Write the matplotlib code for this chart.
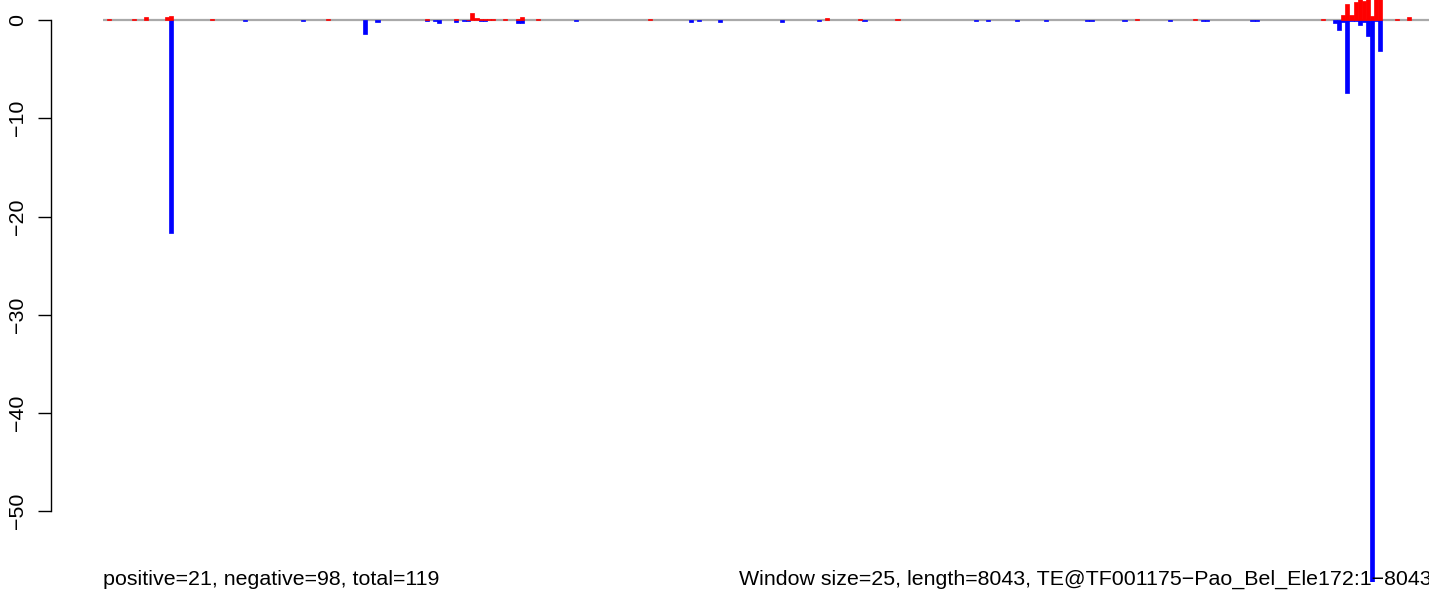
import matplotlib
matplotlib.use('Agg')
import matplotlib.pyplot as plt
import numpy as np

# window index -> value (window size 25, 322 windows)
n_windows = 322
pos_idx = [1, 7, 10, 15, 16, 26, 54, 78, 85, 88, 89, 90, 91, 92, 93, 94, 97, 100, 101, 105,
           132, 175, 183, 192, 250, 264, 295, 300, 301, 302, 303, 304, 305, 306, 307, 308, 309,
           313, 316]
pos_val = [0.1, 0.1, 0.3, 0.3, 0.4, 0.1, 0.15, 0.1, 0.1, 0.05, 0.7, 0.2, 0.1, 0.1, 0.1, 0.1, 0.1, 0.1, 0.3, 0.1,
           0.1, 0.2, 0.1, 0.1, 0.1, 0.1, 0.1, 0.5, 1.6, 0.5, 1.8, 2.5, 1.9, 3.0, 0.4, 3.0, 3.0,
           0.1, 0.3]
neg_idx = [16, 34, 48, 63, 66, 78, 80, 81, 85, 87, 88, 91, 92, 100, 101, 114,
           142, 144, 149, 164, 173, 184, 211, 214, 221, 228, 238, 239, 247, 258,
           266, 267, 278, 279, 298, 299, 300, 301, 302, 303, 304, 305, 306, 307, 308, 309]
neg_val = [-21.7, -0.1, -0.1, -1.4, -0.2, -0.1, -0.1, -0.3, -0.2, -0.1, -0.1, -0.1, -0.1, -0.3, -0.3, -0.1,
           -0.2, -0.1, -0.2, -0.2, -0.1, -0.1, -0.1, -0.1, -0.1, -0.1, -0.1, -0.1, -0.1, -0.1,
           -0.1, -0.1, -0.1, -0.1, -0.3, -1.0, -0.2, -7.4, -0.1, -0.1, -0.5, -0.2, -1.6, -60.0, -0.1, -3.2]
y_ticks = [0, -10, -20, -30, -40, -50]
left_note = 'positive=21, negative=98, total=119'
right_note = 'Window size=25, length=8043, TE@TF001175\u2212Pao_Bel_Ele172:1\u22128043'

plt.rcParams['font.family'] = ['Liberation Sans', 'DejaVu Sans']
plt.rcParams['axes.unicode_minus'] = True

W, H = 1429, 592
fig = plt.figure(figsize=(W / 100, H / 100), dpi=100)
ax = fig.add_axes([103 / W, (H - 582) / H, (1432 - 103) / W, 582 / H])
ax.set_xlim(0, n_windows)
ax.set_ylim(-57.2, 20 / 9.82)

ax.axhline(0, color='darkgray', lw=1.6, zorder=1)
ax.bar(neg_idx, neg_val, width=1, align='edge', color='blue',
       edgecolor='blue', linewidth=0.5, zorder=2)
ax.bar(pos_idx, pos_val, width=1, align='edge', color='red',
       edgecolor='red', linewidth=0.5, zorder=3)

for s in ['top', 'right', 'bottom']:
    ax.spines[s].set_visible(False)
ax.spines['left'].set_position(('outward', 52 * 0.72))
ax.spines['left'].set_bounds(-50, 0)
ax.spines['left'].set_linewidth(1.0)
ax.set_xticks([])
ax.set_yticks(y_ticks)
ax.set_yticklabels([f'{t}'.replace('-', '\u2212') for t in y_ticks], rotation=90, va='center')
ax.tick_params(axis='y', length=9.4, width=1.0, pad=8, labelsize=15.4)

fig.text(103 / W, (H - 585) / H, left_note, fontsize=15.4, ha='left', va='baseline')
fig.text(1432 / W, (H - 585) / H, right_note, fontsize=15.4, ha='right', va='baseline')

fig.savefig('out.png', dpi=100)
